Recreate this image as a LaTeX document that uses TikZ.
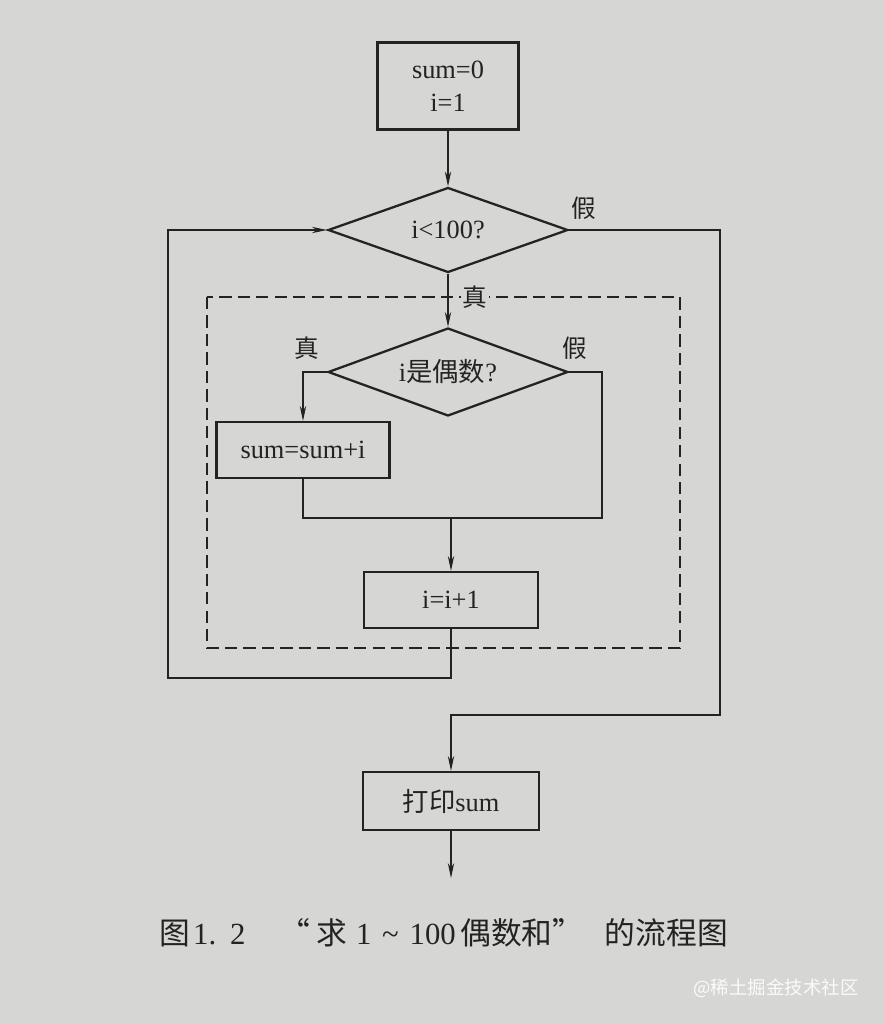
\documentclass[tikz,border=0pt]{standalone}
\usepackage{fontspec}
\setmainfont{Liberation Serif}
\newfontfamily\cjk{Noto Sans CJK SC}
\usetikzlibrary{shapes.geometric, arrows.meta, positioning}
\definecolor{paper}{RGB}{214,214,212}
\definecolor{ink}{RGB}{35,35,35}

\tikzset{
  procbox/.style={draw=ink, line width=1.3pt, rectangle, inner sep=0pt, align=center,
    text=ink, font=\fontsize{15}{19}\selectfont},
  decide/.style={draw=ink, line width=1.3pt, diamond, aspect=2.8, inner sep=0pt,
    minimum width=4.8cm, text=ink, font=\fontsize{15}{19}\selectfont},
  flow/.style={draw=ink, line width=0.6pt},
  flowarrow/.style={flow, -{Stealth[length=8.5pt,width=3.6pt]}},
  branchlabel/.style={text=ink, inner sep=1pt, font=\cjk\fontsize{14}{14}\selectfont},
}

\begin{document}
\begin{tikzpicture}[x=0.02cm, y=-0.02cm]
    % page
    \fill[paper] (0,0) rectangle (884,1024);
    \useasboundingbox (0,0) rectangle (884,1024);

    % loop body frame
    \draw[ink, line width=0.7pt, dash pattern=on 7pt off 3.5pt] (207,297) rectangle (680,648);

    % steps
    \node[procbox, minimum width=2.82cm, minimum height=1.74cm] (init) at (448,86) {sum=0\\i=1};
    \node[decide, minimum height=1.7cm] (loopcond) at (448,230) {i<100?};
    \node[decide, minimum height=1.76cm] (evencond) at (448,372) {i{\cjk 是偶数}?};
    \node[procbox, minimum width=3.46cm, minimum height=1.12cm] (addsum) at (303,450) {sum=sum+i};
    \node[procbox, minimum width=3.48cm, minimum height=1.12cm] (incr) at (451,600) {i=i+1};
    \node[procbox, minimum width=3.52cm, minimum height=1.16cm] (print) at (451,801) {{\cjk 打印}sum};

    % bends
    \coordinate (exittop) at (720,230);
    \coordinate (exitbot) at (720,715);
    \coordinate (rbend) at (602,518);
    \coordinate (merge) at (451,518);
    \coordinate (back) at (168,678);
    \coordinate (stop) at (451,878);

    % connectors
    \draw[flowarrow] (init) -- (loopcond);
    \draw[flowarrow] (loopcond) -- (evencond);
    \draw[flowarrow] (evencond.west) -| (addsum.north);
    \draw[flow] (evencond.east) -| (rbend) -- (merge);
    \draw[flow] (addsum.south) |- (merge);
    \draw[flowarrow] (merge) -- (incr);
    \draw[flowarrow] (incr.south) |- (back) |- (loopcond.west);
    \draw[flowarrow] (loopcond.east) -- (exittop) -- (exitbot) -| (print.north);
    \draw[flowarrow] (print) -- (stop);

    % branch labels
    \node[branchlabel] (fA) at (584,208) {假};
    \node[branchlabel, fill=paper] (tA) at (475,297) {真};
    \node[branchlabel] (tB) at (307,348) {真};
    \node[branchlabel] (fB) at (575,348) {假};

    % caption
    \node[anchor=west, inner sep=0pt, text=ink, font=\fontsize{17.5}{17.5}\selectfont] (caption) at (159,933)
      {{\cjk 图}\hspace{0.1em}1.\hspace{0.45em}2\hspace{1.1em}{\cjk “}\hspace{0.2em}{\cjk 求}\hspace{0.3em}1\hspace{0.35em}\textasciitilde\hspace{0.35em}100\hspace{0.15em}{\cjk 偶数和”}\hspace{0.7em}{\cjk 的流程图}};
    \node[text=white!90!paper, font=\cjk\fontsize{10.5}{10.5}\selectfont] (mark) at (776,988) {@稀土掘金技术社区};
\end{tikzpicture}
\end{document}
